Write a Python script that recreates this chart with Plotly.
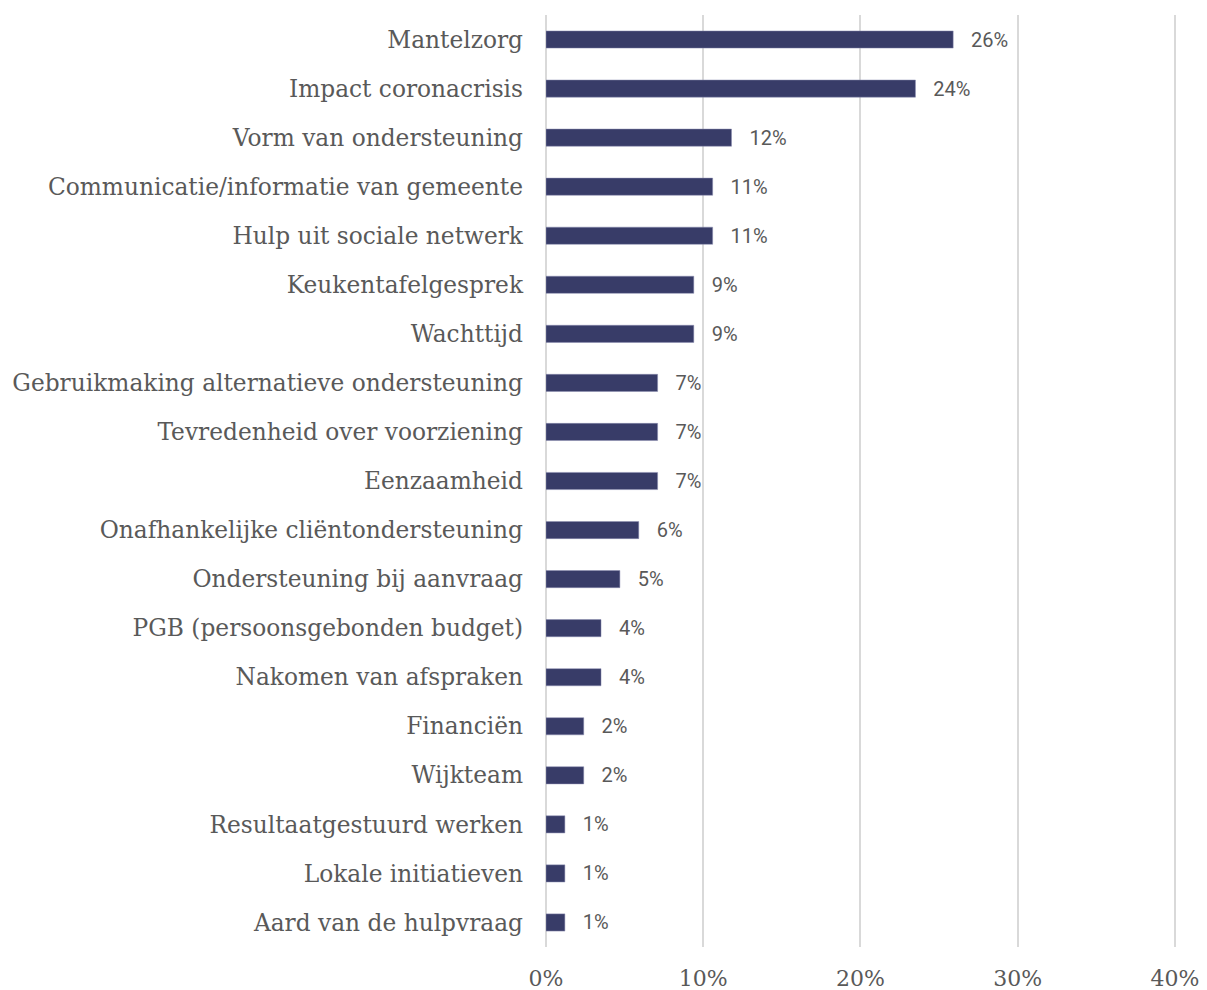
import plotly.graph_objects as go

categories = [
    "Mantelzorg",
    "Impact coronacrisis",
    "Vorm van ondersteuning",
    "Communicatie/informatie van gemeente",
    "Hulp uit sociale netwerk",
    "Keukentafelgesprek",
    "Wachttijd",
    "Gebruikmaking alternatieve ondersteuning",
    "Tevredenheid over voorziening",
    "Eenzaamheid",
    "Onafhankelijke cliëntondersteuning",
    "Ondersteuning bij aanvraag",
    "PGB (persoonsgebonden budget)",
    "Nakomen van afspraken",
    "Financiën",
    "Wijkteam",
    "Resultaatgestuurd werken",
    "Lokale initiatieven",
    "Aard van de hulpvraag",
]
values = [25.9, 23.5, 11.8, 10.6, 10.6, 9.4, 9.4, 7.1, 7.1, 7.1, 5.9, 4.7, 3.5, 3.5, 2.4, 2.4, 1.2, 1.2, 1.2]
x_ticks = [0, 10, 20, 30, 40]
x_tick_labels = ["0%", "10%", "20%", "30%", "40%"]

labels = ["\u00a0\u00a0\u00a0" + f"{round(v)}%" for v in values]

fig = go.Figure(
    go.Bar(
        x=values,
        y=categories,
        orientation="h",
        marker=dict(color="#383C68", line=dict(color="#8a8db0", width=0.5)),
        text=labels,
        textposition="outside",
        constraintext="none",
        textfont=dict(family="Roboto", size=20, color="#595959"),
        cliponaxis=False,
    )
)

fig.update_layout(
    width=1207,
    height=990,
    margin=dict(l=538, r=37, t=6.5, b=50.5, autoexpand=False),
    paper_bgcolor="white",
    plot_bgcolor="white",
    bargap=0.65,
    showlegend=False,
    xaxis=dict(
        range=[0, 40.2],
        tickvals=x_ticks,
        ticktext=x_tick_labels,
        showgrid=True,
        gridcolor="#d9d9d9",
        gridwidth=1.5,
        zeroline=True,
        zerolinecolor="#d9d9d9",
        zerolinewidth=1.5,
        showline=False,
        ticks="",
        automargin=False,
        tickfont=dict(family="DejaVu Serif", size=22, color="#595959"),
        ticklabelstandoff=16,
        fixedrange=True,
    ),
    yaxis=dict(
        autorange="reversed",
        showgrid=False,
        showline=False,
        ticks="",
        automargin=False,
        tickfont=dict(family="DejaVu Serif", size=23.3, color="#595959"),
        ticklabelstandoff=22,
    ),
)

fig.write_html("out.html")
